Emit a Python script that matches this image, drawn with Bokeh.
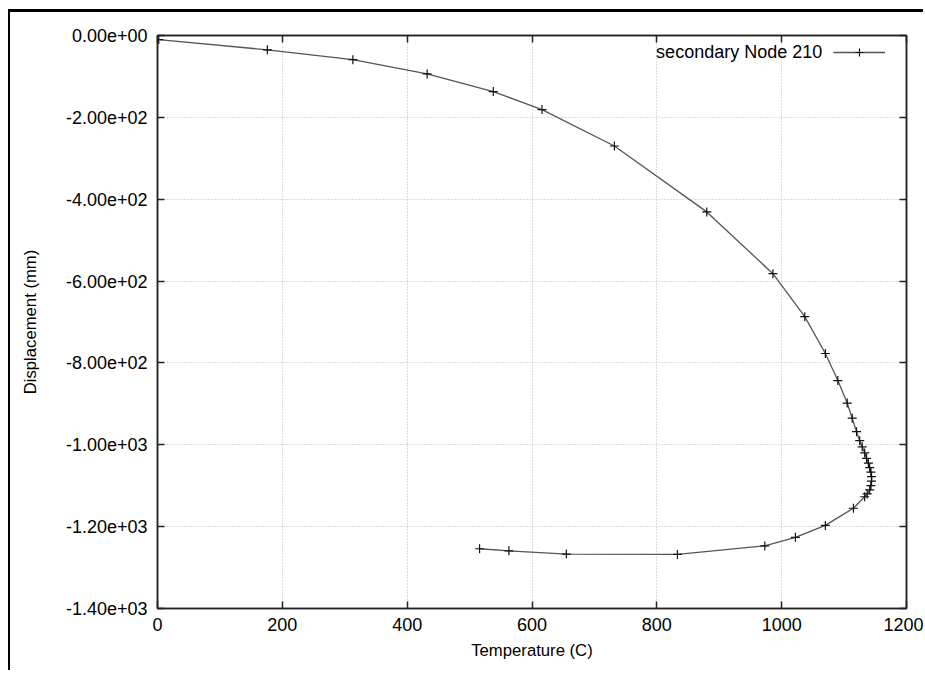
from bokeh.plotting import figure
from bokeh.models import LinearAxis, Range1d, FixedTicker, CustomJSTickFormatter, Legend, LegendItem, Label
from bokeh.embed import file_html
from bokeh.resources import INLINE

# Data (Temperature in C, Displacement in mm)
temperature = [2, 176, 313, 432, 538, 616, 732, 880, 986, 1037, 1070, 1090, 1105, 1113,
               1120, 1125, 1129, 1133, 1136, 1139, 1141, 1143, 1144, 1144, 1143, 1141,
               1137, 1133, 1115, 1070, 1022, 973, 833, 655, 563, 516]
displacement = [-10, -35, -59, -94, -137, -181, -270, -431, -582, -687, -777, -843, -898, -935,
                -968, -990, -1005, -1020, -1033, -1045, -1056, -1067, -1078, -1089, -1100, -1110,
                -1120, -1127, -1155, -1197, -1226, -1247, -1268, -1267, -1259, -1254]
series_name = "secondary Node 210"
x_ticks = [0, 200, 400, 600, 800, 1000, 1200]
y_ticks = [0, -200, -400, -600, -800, -1000, -1200, -1400]

FONT = "Liberation Sans"
TICK_FS = "18px"
LABEL_FS = "16.7px"

p = figure(width=915, height=661, output_backend="svg", toolbar_location=None,
           x_range=Range1d(0, 1200), y_range=Range1d(-1400, 0),
           x_axis_label="Temperature (C)", y_axis_label="Displacement (mm)",
           min_border_left=147, min_border_top=23, min_border_right=19, min_border_bottom=65,
           styles={"border-top": "3px solid black", "border-left": "2px solid black",
                   "margin-top": "9px", "margin-left": "8px"})
p.background_fill_color = "white"
p.border_fill_color = "white"
p.outline_line_color = "#222222"
p.outline_line_width = 1.5

yfmt = CustomJSTickFormatter(code="""
if (Math.abs(tick) < 1e-9) { return "0.00e+00"; }
const e = Math.floor(Math.log10(Math.abs(tick)) + 1e-12);
const m = tick / Math.pow(10, e);
const sign = e < 0 ? '-' : '+';
const ae = Math.abs(e);
return m.toFixed(2) + 'e' + sign + (ae < 10 ? '0' : '') + ae;
""")

for ax in p.xaxis:
    ax.ticker = FixedTicker(ticks=x_ticks)
for ax in p.yaxis:
    ax.ticker = FixedTicker(ticks=y_ticks)
    ax.formatter = yfmt

for ax in list(p.xaxis) + list(p.yaxis):
    ax.axis_line_color = "#222222"
    ax.axis_line_width = 1.5
    ax.major_tick_in = 7
    ax.major_tick_out = 0
    ax.major_tick_line_color = "#222222"
    ax.major_tick_line_width = 1.5
    ax.minor_tick_line_color = None
    ax.major_label_text_font = FONT
    ax.major_label_text_font_size = TICK_FS
    ax.major_label_text_color = "black"
    ax.axis_label_text_font = FONT
    ax.axis_label_text_font_size = LABEL_FS
    ax.axis_label_text_font_style = "normal"
    ax.axis_label_text_color = "black"

p.xaxis.major_label_standoff = 9
p.xaxis.axis_label_standoff = 7
p.yaxis.major_label_standoff = 10
p.yaxis.axis_label_standoff = 23

# mirrored ticks on top and right (no labels)
blank = CustomJSTickFormatter(code="return '';")
top = LinearAxis(ticker=FixedTicker(ticks=x_ticks), formatter=blank,
                 major_tick_in=7, major_tick_out=0, minor_tick_line_color=None,
                 axis_line_color="#222222", axis_line_width=1.5,
                 major_tick_line_color="#222222", major_tick_line_width=1.5,
                 major_label_standoff=0)
right = LinearAxis(ticker=FixedTicker(ticks=y_ticks), formatter=blank,
                   major_tick_in=7, major_tick_out=0, minor_tick_line_color=None,
                   axis_line_color="#222222", axis_line_width=1.5,
                   major_tick_line_color="#222222", major_tick_line_width=1.5,
                   major_label_standoff=0)
p.add_layout(top, "above")
p.add_layout(right, "right")

p.xgrid.ticker = FixedTicker(ticks=x_ticks)
p.ygrid.ticker = FixedTicker(ticks=y_ticks)
for g in (p.xgrid, p.ygrid):
    g.grid_line_color = "#b8b8b8"
    g.grid_line_dash = "1 2"
    g.grid_line_width = 1

ln = p.line(temperature, displacement, line_color="#555555", line_width=1.3)
mk = p.scatter(temperature, displacement, marker="cross", size=9, line_color="#111111",
               line_width=1.2)

legend = Legend(items=[LegendItem(label=" ", renderers=[ln, mk])],
                location=(676, 546), glyph_width=52, glyph_height=20,
                padding=0, margin=0, spacing=0, label_standoff=0,
                background_fill_alpha=0, border_line_color=None,
                label_text_font=FONT, label_text_font_size=TICK_FS)
p.add_layout(legend)

lbl = Label(x=1065, y=-41.5, text=series_name, text_align="right", text_baseline="middle",
            text_font=FONT, text_font_size=TICK_FS, text_color="black")
p.add_layout(lbl)

open("out.html", "w").write(file_html(p, INLINE))
